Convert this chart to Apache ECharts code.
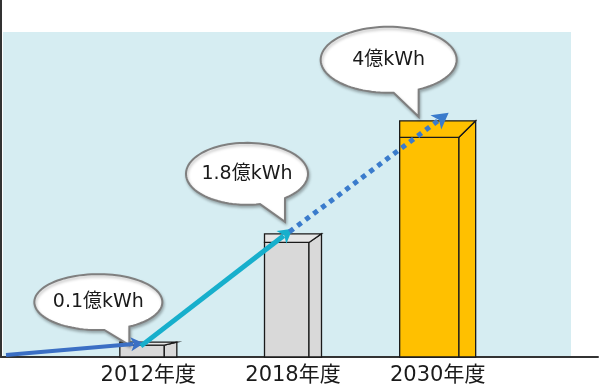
<!DOCTYPE html>
<html>
<head>
<meta charset="utf-8">
<script src="https://cdn.jsdelivr.net/npm/echarts@6/dist/echarts.min.js"></script>
<style>
html,body{margin:0;padding:0;background:#fff;}
#chart{width:600px;height:389px;}
</style>
</head>
<body>
<div id="chart"></div>
<script>
// ---- data ----
const categories = ['2012年度', '2018年度', '2030年度'];
const barHeights = [0.25, 2.07, 3.97];          // bar heights (chart units, axis 0..6)
const bubbleLabels = ['0.1億kWh', '1.8億kWh', '4億kWh'];

// ---- styles ----
const FONT = '"DejaVu Sans", "Noto Sans CJK JP", sans-serif';
const BAR_W = [57, 57, 76];
const FRONT_RATIO = 0.78;
const BAR_FILL = ['#d9d9d9', '#d9d9d9', '#ffc000'];
const BAR_TOP_FILL = ['#e6e6e6', '#e6e6e6', '#ffc000'];
const BUBBLES = [
  {dx: -50, dy: -40, rx: 64, ry: 28, tx: -19, ty: 3},
  {dx: -46, dy: -60, rx: 61, ry: 31, tx: -8, ty: -12},
  {dx: -49, dy: -61, rx: 68, ry: 33, tx: -19, ty: -4}
];
const ARROWS = [
  {tx: -4.5, ty: 1, color: '#3b6fc4', width: 4, dash: null, hl: 13, hw: 7},
  {tx: -0.5, ty: -5, color: '#17afcc', width: 5, dash: null, hl: 14, hw: 8},
  {tx: 11, ty: -8, color: '#3a7bcc', width: 5, dash: [5, 5], hl: 16, hw: 9}
];

const chart = echarts.init(document.getElementById('chart'), null, {renderer: 'canvas'});

function barTop(api, i) {
  return api.coord([i, barHeights[i]]);
}

function renderBar(params, api) {
  const i = api.value(0);
  const top = api.coord([i, api.value(1)]);
  const base = api.coord([i, 0]);
  const W = BAR_W[i];
  const fw = W * FRONT_RATIO;
  const h = base[1] - top[1];
  const dy = Math.max(3, h * 0.07);
  const x0 = top[0] - W / 2, x1 = top[0] + W / 2;
  const yT = top[1], yB = base[1];
  const stroke = {stroke: '#1a1a1a', lineWidth: 1.3};
  return {
    type: 'group',
    children: [
      {type: 'rect', shape: {x: x0, y: yT + dy, width: fw, height: yB - yT - dy},
        style: Object.assign({fill: BAR_FILL[i]}, stroke)},
      {type: 'polygon', shape: {points: [[x0 + fw, yT + dy], [x1, yT], [x1, yB], [x0 + fw, yB]]},
        style: Object.assign({fill: BAR_FILL[i]}, stroke)},
      {type: 'polygon', shape: {points: [[x0, yT], [x1, yT], [x0 + fw, yT + dy], [x0, yT + dy]]},
        style: Object.assign({fill: BAR_TOP_FILL[i]}, stroke)}
    ]
  };
}

function arrowShape(x0, y0, x1, y1, a) {
  const L = Math.hypot(x1 - x0, y1 - y0);
  const ux = (x1 - x0) / L, uy = (y1 - y0) / L;
  const px = -uy, py = ux;
  const bx = x1 - ux * a.hl, by = y1 - uy * a.hl;
  const nx = x1 - ux * a.hl * 0.75, ny = y1 - uy * a.hl * 0.75;
  const shaftEnd = [x1 - ux * a.hl * 0.8, y1 - uy * a.hl * 0.8];
  return [
    {type: 'line', shape: {x1: x0, y1: y0, x2: shaftEnd[0], y2: shaftEnd[1]},
      style: {stroke: a.color, lineWidth: a.width, lineDash: a.dash || null, lineCap: 'butt'}},
    {type: 'polygon', shape: {points: [[x1, y1], [bx + px * a.hw, by + py * a.hw], [nx, ny], [bx - px * a.hw, by - py * a.hw]]},
      style: {fill: a.color}}
  ];
}

function arrowTip(api, i) {
  const t = barTop(api, i);
  return [t[0] + ARROWS[i].tx, t[1] + ARROWS[i].ty];
}

function renderArrow(params, api) {
  const i = api.value(0);
  const tip = arrowTip(api, i);
  let start;
  if (i === 0) {
    const base = api.coord([0, 0]);
    start = [6, base[1] - 2];
  } else {
    start = arrowTip(api, i - 1);
    start = [start[0] - 3, start[1] + 3];
  }
  return {type: 'group', children: arrowShape(start[0], start[1], tip[0], tip[1], ARROWS[i])};
}

function renderBubble(params, api) {
  const i = api.value(0);
  const t = barTop(api, i);
  const b = BUBBLES[i];
  const cx = t[0] + b.dx, cy = t[1] + b.dy;
  const tipX = t[0] + b.tx, tipY = t[1] + b.ty;
  const rightX = tipX, leftX = tipX - 25;
  const a2 = Math.acos(Math.max(-1, Math.min(1, (rightX - cx) / b.rx)));
  const a1 = Math.acos(Math.max(-1, Math.min(1, (leftX - cx) / b.rx)));
  const pts = [[tipX, tipY]];
  const N = 90;
  const end = a1 - 2 * Math.PI;
  for (let k = 0; k <= N; k++) {
    const a = a2 + (end - a2) * k / N;
    pts.push([cx + b.rx * Math.cos(a), cy + b.ry * Math.sin(a)]);
  }
  return {
    type: 'group',
    children: [
      {type: 'polygon', shape: {points: pts},
        style: {fill: '#ffffff', stroke: '#7f7f7f', lineWidth: 2,
          shadowBlur: 3, shadowColor: 'rgba(0,0,0,0.25)', shadowOffsetX: 1, shadowOffsetY: 2}},
      {type: 'text', style: {text: bubbleLabels[i], x: cx, y: cy, align: 'center', verticalAlign: 'middle',
        fontSize: 19, fontFamily: FONT, fill: '#1a1a1a'}}
    ]
  };
}

const seriesData = barHeights.map((v, i) => [i, v]);

chart.setOption({
  animation: false,
  backgroundColor: '#ffffff',
  graphic: [{
    type: 'rect', z: -10, silent: true,
    shape: {x: 3, y: 32, width: 568, height: 325},
    style: {fill: '#d6edf2'}
  }],
  grid: [
    {left: 76, right: 90, top: 0, bottom: 32},
    {left: 1, right: 2, top: 0, bottom: 32}
  ],
  xAxis: [
    {type: 'category', data: categories, gridIndex: 0, boundaryGap: true,
      axisLine: {show: false}, axisTick: {show: false}, splitLine: {show: false},
      axisLabel: {color: '#1a1a1a', fontSize: 21, fontFamily: FONT, margin: 8}},
    {type: 'value', gridIndex: 1, min: 0, max: 1,
      axisLine: {show: true, lineStyle: {color: '#333', width: 2}},
      axisTick: {show: false}, axisLabel: {show: false}, splitLine: {show: false}}
  ],
  yAxis: [
    {type: 'value', gridIndex: 0, min: 0, max: 6, show: false, splitLine: {show: false}},
    {type: 'value', gridIndex: 1, min: 0, max: 1,
      axisLine: {show: true, lineStyle: {color: '#333', width: 2}},
      axisTick: {show: false}, axisLabel: {show: false}, splitLine: {show: false}}
  ],
  series: [
    {type: 'custom', name: 'bars', xAxisIndex: 0, yAxisIndex: 0, z: 2, data: seriesData, renderItem: renderBar},
    {type: 'custom', name: 'bubbles', xAxisIndex: 0, yAxisIndex: 0, z: 3, data: seriesData, renderItem: renderBubble},
    {type: 'custom', name: 'arrows', xAxisIndex: 0, yAxisIndex: 0, z: 4, data: seriesData, renderItem: renderArrow, clip: false}
  ]
});
</script>
</body>
</html>
